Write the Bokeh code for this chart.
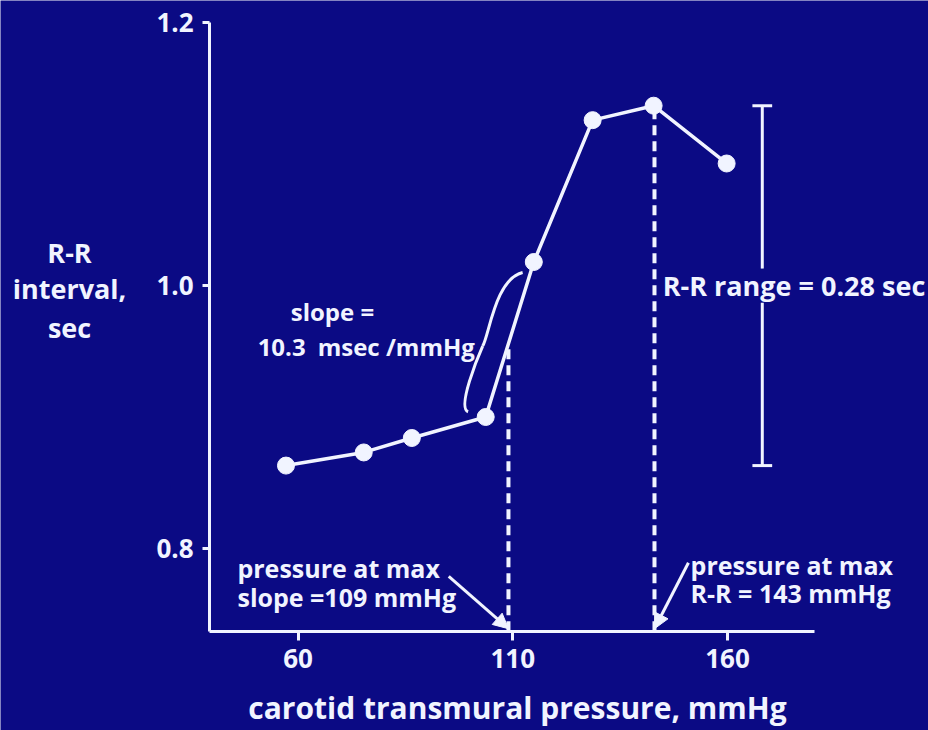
import numpy as np
from bokeh.plotting import figure
from bokeh.models import Range1d, Label, Arrow, NormalHead, FixedTicker
from bokeh.embed import file_html
from bokeh.resources import INLINE

# ---- data ----
pressure = [57.2, 75.3, 86.5, 103.7, 114.9, 128.6, 142.8, 159.8]       # mmHg
rr_interval = [0.863, 0.873, 0.884, 0.900, 1.018, 1.126, 1.137, 1.093]  # sec
x_ticks = [60, 110, 160]
y_ticks = [0.8, 1.0, 1.2]
y_tick_labels = ["0.8", "1.0", "1.2"]
p_max_slope = 109      # mmHg
p_max_rr = 143         # mmHg
rr_range_text = "0.28"
slope_value_text = "10.3"

BG = "#0b0a84"
FG = "#f1f4ff"
FONT = "Open Sans"

# whole canvas is the plotting frame; axes sit at fixed data locations
x_lo, x_hi = -9.27, 206.8
y_lo, y_hi = 0.6613, 1.2171
x_axis_at = 0.7368     # y value of the x axis line
y_axis_at = 39.4       # x value of the y axis line

p = figure(width=928, height=730, output_backend="svg", toolbar_location=None,
           x_range=Range1d(x_lo, x_hi), y_range=Range1d(y_lo, y_hi),
           min_border=0)
p.background_fill_color = BG
p.border_fill_color = BG
p.outline_line_color = None
p.grid.visible = False

for ax in (p.xaxis[0], p.yaxis[0]):
    ax.axis_line_color = FG
    ax.axis_line_width = 3
    ax.major_tick_line_color = FG
    ax.major_tick_line_width = 3
    ax.major_tick_in = 0
    ax.minor_tick_line_color = None
    ax.major_label_text_color = FG
    ax.major_label_text_font = FONT
    ax.major_label_text_font_style = "bold"
    ax.major_label_text_font_size = "26px"

p.xaxis.fixed_location = x_axis_at
p.xaxis.ticker = FixedTicker(ticks=x_ticks)
p.xaxis.bounds = (y_axis_at, 180.3)
p.xaxis.major_tick_out = 9
p.xaxis.major_label_standoff = 9

p.yaxis.fixed_location = y_axis_at
p.yaxis.ticker = FixedTicker(ticks=y_ticks)
p.yaxis.major_label_overrides = {t: s for t, s in zip(y_ticks, y_tick_labels)}
p.yaxis.bounds = (x_axis_at, 1.2)
p.yaxis.major_tick_out = 7
p.yaxis.major_label_standoff = 9

# dashed guide lines
y_at_slope = float(np.interp(p_max_slope, pressure, rr_interval))
y_at_max = max(rr_interval)
p.segment(x0=[p_max_slope, p_max_rr], y0=[x_axis_at, x_axis_at],
          x1=[p_max_slope, p_max_rr], y1=[y_at_slope, y_at_max],
          line_color=FG, line_width=4, line_dash="10 6")

# data line and points
p.line(pressure, rr_interval, line_color=FG, line_width=3.5)
p.scatter(pressure, rr_interval, size=17, fill_color=FG, line_color=FG)

# R-R range bar (from min to max of data), with gap for the text
bar_x = 168.1
rr_min, rr_max = min(rr_interval), max(rr_interval)
gap_top, gap_bot = 1.013, 0.987
p.segment(x0=[bar_x, bar_x, bar_x - 2.3, bar_x - 2.3],
          y0=[rr_max, gap_bot, rr_max, rr_min],
          x1=[bar_x, bar_x, bar_x + 2.3, bar_x + 2.3],
          y1=[gap_top, rr_min, rr_max, rr_min],
          line_color=FG, line_width=3)

# brace beside the steep segment
p.bezier(x0=[112.3, 103.0], y0=[1.010, 0.954],
         x1=[103.0, 99.6], y1=[0.954, 0.904],
         cx0=[105.9, 101.9], cy0=[1.005, 0.946],
         cx1=[104.5, 97.0], cy1=[0.962, 0.907],
         line_color=FG, line_width=3)

def lab(x, y, text, size="25px", align="left"):
    p.add_layout(Label(x=x, y=y, text=text, text_color=FG, text_font=FONT,
                       text_font_style="bold", text_font_size=size,
                       text_align=align, text_baseline="middle"))

# axis titles
lab(6.8, 1.025, "R-R", "27px", "center")
lab(6.8, 0.998, "interval,", "27px", "center")
lab(6.8, 0.968, "sec", "27px", "center")
lab(112.0, 0.6790, "carotid transmural pressure,  mmHg", "30px", "center")

# annotations
lab(58.3, 0.980, "slope =", "24px")
lab(50.6, 0.954, slope_value_text + "\u2002msec /mmHg", "24px")
lab(144.9, 1.0, "R-R range = " + rr_range_text + " sec", "27px")
lab(45.9, 0.7848, "pressure at max", "25px")
lab(45.9, 0.7627, "slope =%d mmHg" % p_max_slope, "25px")
lab(151.4, 0.787, "pressure at max", "25px")
lab(151.4, 0.7657, "R-R = %d mmHg" % p_max_rr, "25px")

# arrows
for xs, ys, xe in [(95.1, 0.7787, p_max_slope), (150.9, 0.789, p_max_rr)]:
    p.add_layout(Arrow(end=NormalHead(size=15, fill_color=FG, line_color=FG),
                       x_start=xs, y_start=ys, x_end=xe, y_end=x_axis_at + 0.002,
                       line_color=FG, line_width=3))

open("out.html", "w").write(file_html(p, INLINE))
